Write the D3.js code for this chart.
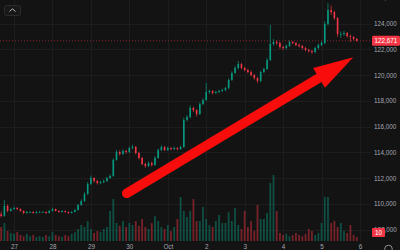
<!DOCTYPE html>
<html><head><meta charset="utf-8">
<script src="https://cdn.jsdelivr.net/npm/d3@7"></script>
<style>
html,body{margin:0;padding:0;background:#131313;overflow:hidden}
svg{display:block}
text{font-family:"Liberation Sans",Arial,sans-serif}
</style></head><body>
<svg id="chart" width="400" height="250"></svg>
<script>
// 2h candles, BTC/USD, Sep 26 16:00 -> Oct 5 ~22:00
const startTime=new Date(2025,8,26,16);
const stepHours=2;
const firstOpen=109200;
const closes=[
109060,109840,109450,109600,109680,109600,109450,109290,109370,109370,
109290,109370,109370,109370,109290,109450,109600,109450,109370,109450,
109370,109290,109370,109520,109910,110220,110770,111550,112010,111780,
111620,111700,111780,112010,112170,113410,114030,113880,114110,114030,
114340,114420,113950,113570,113100,112940,113180,113020,113570,114190,
114420,114190,114340,114260,114340,114260,114420,116520,116750,117450,
117290,116980,117760,118070,118690,118770,118620,118690,118770,118850,
119000,119630,120170,120560,120870,120560,120400,120250,120010,119780,
119550,120250,120480,121180,122420,122580,122500,122190,122110,122270,
122580,122500,122350,122270,122110,121960,121880,121800,122110,122350,
122500,123980,125060,124910,124440,123200,123200,123280,123040,122970,
122810,122671];
const highs=[
109400,110300,109950,109700,109800,109760,109650,109500,109450,109430,
109420,109440,109450,109420,109400,109520,109700,109640,109500,109520,
109480,109400,109430,109600,110000,110350,110900,111700,112200,112080,
111850,111800,111900,112100,112300,113550,114200,114150,114250,114200,
114450,114600,114500,114050,113650,113200,113300,113280,113700,114300,
114550,114500,114450,114400,114450,114400,114520,116700,116900,117650,
117550,117350,117900,118200,119400,118900,118850,118800,118880,118950,
119100,119750,120300,120700,121100,120950,120650,120500,120350,120100,
119850,120350,120600,121350,123900,122800,122700,122600,122300,122400,
122700,122650,122580,122450,122350,122200,122050,121950,122200,122450,
122650,124200,125600,125400,125000,124500,123400,123450,123350,123150,
123050,122900];
const lows=[
108950,109000,109350,109380,109520,109500,109380,109200,109220,109300,
109230,109240,109300,109310,109220,109260,109420,109400,109300,109330,
109310,109220,109250,109340,109480,109850,110150,110700,111450,111650,
111500,111520,111600,111700,111950,112100,113350,113750,113800,113900,
113950,114250,113850,113450,113000,112800,112850,112900,112950,113500,
114100,114100,114100,114150,114180,114150,114200,114350,116400,116650,
117150,116800,116900,117650,118000,118550,118500,118520,118600,118680,
118750,118900,119550,120100,120450,120450,120300,120150,119900,119650,
119400,119450,120150,120400,121100,122300,122350,122050,121950,122000,
122200,122400,122250,122150,122000,121850,121750,121650,121700,122000,
122250,122400,123850,124700,124300,123000,122900,123050,122900,122600,
122700,122600];
const volumes=[
35,45,25,20,18,22,15,12,18,12,
15,10,12,10,15,12,22,15,12,10,
15,12,18,22,30,40,35,50,30,20,
25,22,30,35,75,105,45,38,50,35,
45,40,50,38,55,35,30,45,62,50,
35,30,40,25,35,55,110,75,60,75,
105,50,50,85,55,40,35,50,65,45,
45,72,50,82,40,30,75,35,50,25,
90,55,55,70,145,165,75,20,15,18,
12,15,20,15,12,18,30,25,15,20,
45,110,110,45,50,35,45,25,20,40,
15,10];
const priceTicks=[108000,110000,112000,114000,116000,118000,120000,122000,124000,126000];
const dayTicks=[new Date(2025,8,27),new Date(2025,8,28),new Date(2025,8,29),new Date(2025,8,30),
  new Date(2025,9,1),new Date(2025,9,2),new Date(2025,9,3),new Date(2025,9,4),new Date(2025,9,5),new Date(2025,9,6)];
const lastPrice=122671;
const lastVolume=10;
// annotation arrow, in data space
const arrowFrom={t:new Date(2025,8,29,22,20),p:110820};
const arrowTo={t:new Date(2025,9,5,19,50),p:121390};

const W=400,H=250,plotR=371,volBase=241;
const UP="#089981",DN="#f23645";
const candles=closes.map((c,i)=>({
  t:d3.timeHour.offset(startTime,i*stepHours),
  o:i===0?firstOpen:closes[i-1],c:c,h:highs[i],l:lows[i],v:volumes[i]
}));

const x=d3.scaleTime().domain([dayTicks[0],dayTicks[9]]).range([14,360]);
const y=d3.scaleLinear().domain([108000,124000]).range([229.6,23.7]);
const v=d3.scaleLinear().domain([0,200]).range([volBase,volBase-80]);

const svg=d3.select("#chart");
svg.append("rect").attr("width",W).attr("height",H).attr("fill","#131313");
svg.append("defs").append("clipPath").attr("id","plot")
  .append("rect").attr("x",0).attr("y",0).attr("width",plotR).attr("height",volBase);

// grid
const grid=svg.append("g").attr("clip-path","url(#plot)").attr("shape-rendering","crispEdges");
grid.selectAll(".vg").data(dayTicks).enter().append("line")
  .attr("x1",d=>Math.round(x(d))+0.5).attr("x2",d=>Math.round(x(d))+0.5)
  .attr("y1",0).attr("y2",volBase).attr("stroke","#1d1d1d");
grid.selectAll(".hg").data(priceTicks).enter().append("line")
  .attr("x1",0).attr("x2",plotR).attr("y1",d=>Math.round(y(d))+0.5).attr("y2",d=>Math.round(y(d))+0.5)
  .attr("stroke","#1d1d1d");

const plot=svg.append("g").attr("clip-path","url(#plot)");

// volume
plot.append("g").selectAll("rect").data(candles).enter().append("rect")
  .attr("x",d=>x(d.t)-0.9).attr("width",1.8)
  .attr("y",d=>v(d.v)).attr("height",d=>volBase-v(d.v))
  .attr("fill",d=>d.c>=d.o?UP:DN).attr("fill-opacity",0.45);

// last price line
plot.append("line").attr("x1",0).attr("x2",plotR)
  .attr("y1",y(lastPrice)).attr("y2",y(lastPrice))
  .attr("stroke",DN).attr("stroke-opacity",0.5).attr("stroke-dasharray","1,2");

// candles
const cg=plot.append("g").selectAll("g").data(candles).enter().append("g");
cg.append("line")
  .attr("x1",d=>x(d.t)).attr("x2",d=>x(d.t))
  .attr("y1",d=>y(d.h)).attr("y2",d=>y(d.l))
  .attr("stroke",d=>d.c>=d.o?UP:DN).attr("stroke-width",0.7);
cg.append("rect")
  .attr("x",d=>x(d.t)-0.8).attr("width",1.6)
  .attr("y",d=>y(Math.max(d.o,d.c)))
  .attr("height",d=>Math.max(0.8,Math.abs(y(d.o)-y(d.c))))
  .attr("fill",d=>d.c>=d.o?UP:DN);

// right price axis
const yAxis=d3.axisRight(y).tickValues(priceTicks).tickSize(0).tickPadding(3)
  .tickFormat(d3.format(","));
const ya=svg.append("g").attr("transform","translate("+plotR+",0)").call(yAxis);
ya.select(".domain").remove();
ya.selectAll("text").attr("fill","#a4a7b0").attr("font-size","6.3px").attr("font-family","Liberation Sans,Arial,sans-serif");

// bottom time axis
const xAxis=d3.axisBottom(x).tickValues(dayTicks).tickSize(0).tickPadding(3.6)
  .tickFormat(d=>d.getDate()===1?"Oct":d.getDate());
const xa=svg.append("g").attr("transform","translate(0,"+volBase+")").call(xAxis);
xa.select(".domain").remove();
xa.selectAll("text").attr("fill","#a4a7b0").attr("font-size","6.3px").attr("font-family","Liberation Sans,Arial,sans-serif");

// last price tag
const py=y(lastPrice);
svg.append("rect").attr("x",372).attr("y",py-5).attr("width",28).attr("height",10).attr("rx",1.5).attr("fill",DN);
svg.append("text").attr("x",386).attr("y",py).attr("dy","0.35em").attr("text-anchor","middle")
  .attr("fill","#fff").attr("font-size","6.3px").text(d3.format(",")(lastPrice));

// last volume tag
const vy=v(lastVolume);
svg.append("rect").attr("x",372).attr("y",vy-9).attr("width",13).attr("height",9).attr("rx",1).attr("fill",DN);
svg.append("text").attr("x",378.5).attr("y",vy-4.5).attr("dy","0.35em").attr("text-anchor","middle")
  .attr("fill","#fff").attr("font-size","6.3px").text(lastVolume);

// small UI bits
svg.append("rect").attr("x",4.5).attr("y",5.5).attr("width",16).attr("height",10).attr("rx",2)
  .attr("fill","#181818").attr("stroke","#2c2c2c");
svg.append("path").attr("d","M9.5,11.5 L12.5,8.8 L15.5,11.5").attr("fill","none")
  .attr("stroke","#bbb").attr("stroke-width",1);
svg.append("circle").attr("cx",388.5).attr("cy",249).attr("r",3.8).attr("fill","none")
  .attr("stroke","#9a9a9a").attr("stroke-width",0.9);

// red arrow annotation
const ax0=x(arrowFrom.t),ay0=y(arrowFrom.p),ax1=x(arrowTo.t),ay1=y(arrowTo.p);
const len=Math.hypot(ax1-ax0,ay1-ay0),ux=(ax1-ax0)/len,uy=(ay1-ay0)/len;
const headL=40,headW=11.5;
const bx=ax1-headL*ux,by=ay1-headL*uy;
const arrow=svg.append("g").attr("fill","#f80c0c").attr("stroke","#f80c0c");
arrow.append("line").attr("x1",ax0).attr("y1",ay0).attr("x2",bx+4*ux).attr("y2",by+4*uy)
  .attr("stroke-width",9.5).attr("stroke-linecap","round");
arrow.append("path").attr("stroke","none")
  .attr("d","M"+ax1+","+ay1+"L"+(bx-headW*uy)+","+(by+headW*ux)+"L"+(bx+headW*uy)+","+(by-headW*ux)+"Z");
</script>
</body></html>
